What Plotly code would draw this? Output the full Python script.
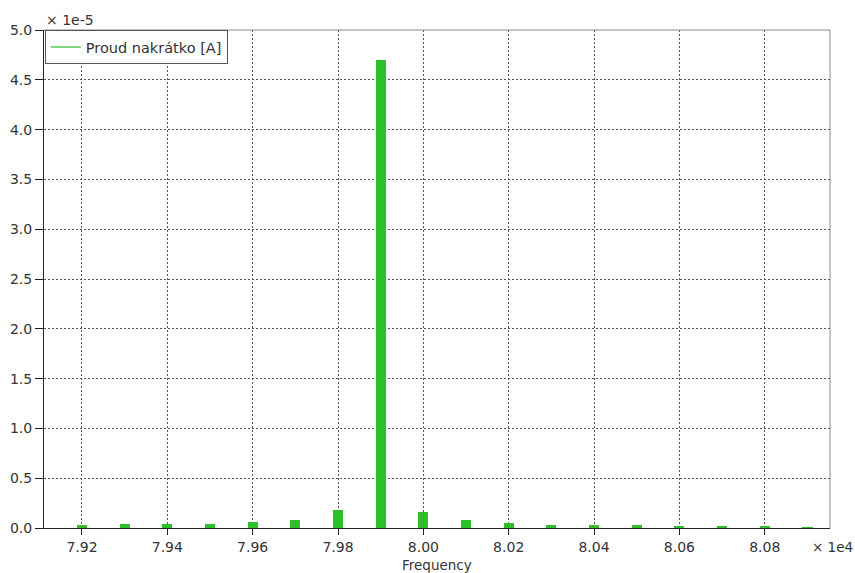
import plotly.graph_objects as go

freq_hz = [79200, 79300, 79400, 79500, 79600, 79700, 79800, 79900, 80000,
           80100, 80200, 80300, 80400, 80500, 80600, 80700, 80800, 80900]
current_e5 = [0.026, 0.036, 0.036, 0.036, 0.056, 0.08, 0.177, 4.70, 0.164,
              0.08, 0.053, 0.033, 0.033, 0.033, 0.023, 0.023, 0.023, 0.01]
x_ticks = [79200, 79400, 79600, 79800, 80000, 80200, 80400, 80600, 80800]
x_tick_labels = ["7.92", "7.94", "7.96", "7.98", "8.00", "8.02", "8.04", "8.06", "8.08"]
y_ticks = [0, 0.5, 1.0, 1.5, 2.0, 2.5, 3.0, 3.5, 4.0, 4.5, 5.0]
y_tick_labels = ["0.0", "0.5", "1.0", "1.5", "2.0", "2.5", "3.0", "3.5", "4.0", "4.5", "5.0"]
series_name = "Proud nakrátko [A]"

FONT = "DejaVu Sans"
TXT = "#333"

fig = go.Figure()
fig.add_trace(go.Bar(x=freq_hz, y=current_e5, width=24, marker_color="#2ec02a",
                     marker_line_width=0, showlegend=False))
fig.add_trace(go.Scatter(x=[None], y=[None], mode="lines", name=series_name,
                         line=dict(color="#86d782", width=2)))

fig.update_layout(
    width=855, height=573,
    margin=dict(l=44, r=25, t=30, b=45, autoexpand=False),
    paper_bgcolor="white", plot_bgcolor="white",
    font=dict(family=FONT, size=14, color=TXT),
    bargap=0,
    legend=dict(x=0.001, y=1.0, xanchor="left", yanchor="top",
                bgcolor="white", bordercolor="#555", borderwidth=1,
                font=dict(family=FONT, size=14.5, color=TXT),
                itemwidth=30, tracegroupgap=0),
    xaxis=dict(range=[79111, 80953], tickvals=x_ticks, ticktext=x_tick_labels,
               showgrid=True, gridcolor="#555", griddash="2px,2px", gridwidth=1,
               ticks="outside", ticklen=6, tickcolor="#222", automargin=False,
               showline=True, linecolor="#222", linewidth=1,
               zeroline=False, tickfont=dict(size=14, color=TXT)),
    yaxis=dict(range=[0, 5.0], tickvals=y_ticks, ticktext=y_tick_labels,
               showgrid=True, gridcolor="#555", griddash="2px,2px", gridwidth=1,
               ticks="outside", ticklen=8, tickcolor="#222", automargin=False,
               showline=True, linecolor="#222", linewidth=1,
               zeroline=False, tickfont=dict(size=14, color=TXT)),
    shapes=[
        dict(type="line", xref="paper", yref="paper", x0=0, x1=1, y0=1, y1=1,
             line=dict(color="#888", width=1)),
        dict(type="line", xref="paper", yref="paper", x0=1, x1=1, y0=0, y1=1,
             line=dict(color="#888", width=1)),
    ],
    annotations=[
        dict(text="× 1e-5", xref="paper", yref="paper", x=0.0, y=1.0,
             xanchor="left", yanchor="bottom", xshift=0, yshift=0, showarrow=False,
             font=dict(size=14, color=TXT)),
        dict(text="× 1e4", xref="paper", yref="paper", x=1.0, y=0.0,
             xanchor="left", yanchor="middle", xshift=-20, yshift=-19, showarrow=False,
             font=dict(size=13.5, color=TXT)),
        dict(text="Frequency", xref="paper", yref="paper", x=0.5, y=0.0,
             xanchor="center", yanchor="middle", yshift=-37, showarrow=False,
             font=dict(size=13.5, color=TXT)),
    ],
)

fig.write_html(
    "out.html",
    config={"displayModeBar": False},
    post_script="document.body.style.margin='0';document.body.style.overflow='hidden';",
)
